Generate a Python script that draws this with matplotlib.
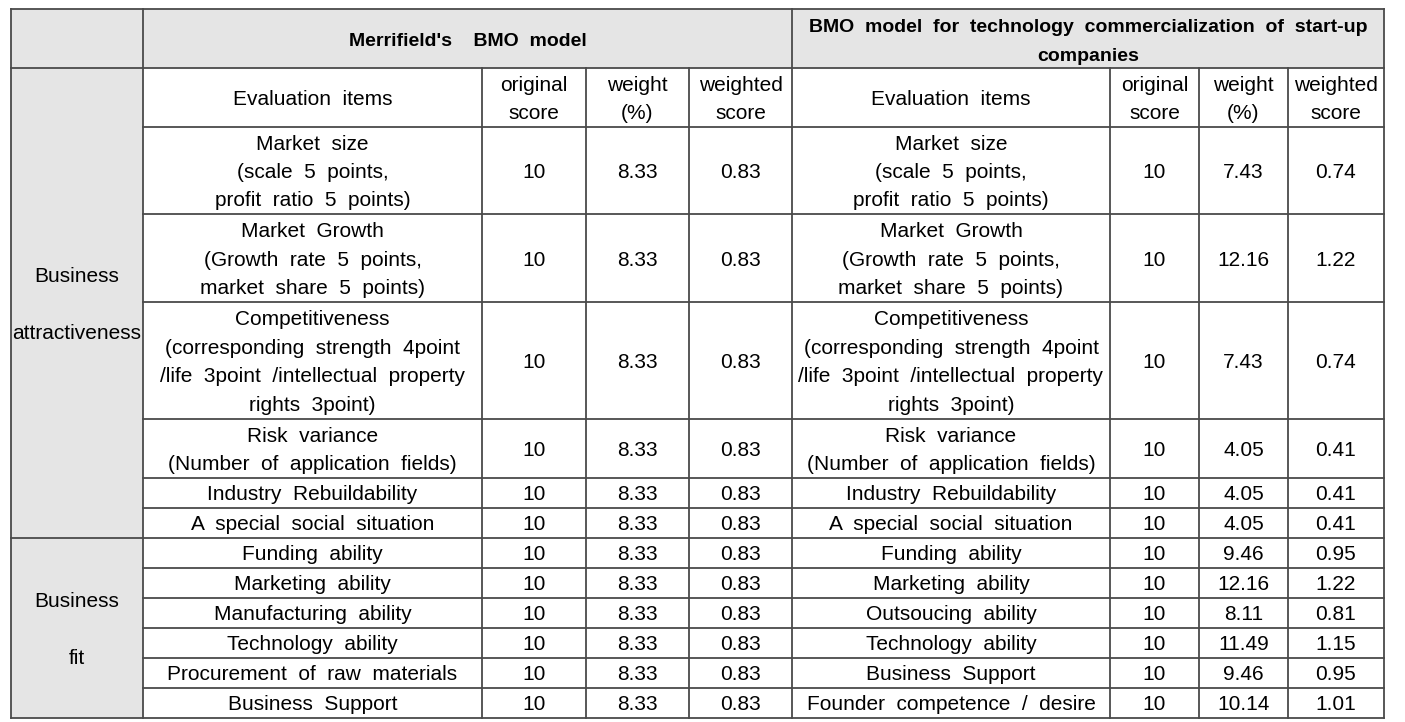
import matplotlib
matplotlib.use('Agg')
import matplotlib.pyplot as plt
from matplotlib.patches import Rectangle

plt.rcParams['font.family'] = ['Liberation Sans', 'DejaVu Sans']

# ---- table content ----
groups = ["Business\n\nattractiveness", "Business\n\nfit"]
group_sizes = [6, 6]
left_title = "Merrifield's  BMO model"
right_title = "BMO model for technology commercialization of start-up\ncompanies"
sub_headers = ["Evaluation items", "original\nscore", "weight\n(%)", "weighted\nscore"]

left_items = ["Market size\n(scale 5 points,\nprofit ratio 5 points)",
              "Market Growth\n(Growth rate 5 points,\nmarket share 5 points)",
              "Competitiveness\n(corresponding strength 4point\n/life 3point /intellectual property\nrights 3point)",
              "Risk variance\n(Number of application fields)",
              "Industry Rebuildability",
              "A special social situation",
              "Funding ability",
              "Marketing ability",
              "Manufacturing ability",
              "Technology ability",
              "Procurement of raw materials",
              "Business Support"]
left_orig = [10, 10, 10, 10, 10, 10, 10, 10, 10, 10, 10, 10]
left_weight = ["8.33", "8.33", "8.33", "8.33", "8.33", "8.33",
               "8.33", "8.33", "8.33", "8.33", "8.33", "8.33"]
left_weighted = ["0.83", "0.83", "0.83", "0.83", "0.83", "0.83",
                 "0.83", "0.83", "0.83", "0.83", "0.83", "0.83"]

right_items = ["Market size\n(scale 5 points,\nprofit ratio 5 points)",
               "Market Growth\n(Growth rate 5 points,\nmarket share 5 points)",
               "Competitiveness\n(corresponding strength 4point\n/life 3point /intellectual property\nrights 3point)",
               "Risk variance\n(Number of application fields)",
               "Industry Rebuildability",
               "A special social situation",
               "Funding ability",
               "Marketing ability",
               "Outsoucing ability",
               "Technology ability",
               "Business Support",
               "Founder competence / desire"]
right_orig = [10, 10, 10, 10, 10, 10, 10, 10, 10, 10, 10, 10]
right_weight = ["7.43", "12.16", "7.43", "4.05", "4.05", "4.05",
                "9.46", "12.16", "8.11", "11.49", "9.46", "10.14"]
right_weighted = ["0.74", "1.22", "0.74", "0.41", "0.41", "0.41",
                  "0.95", "1.22", "0.81", "1.15", "0.95", "1.01"]

# ---- layout (pixels) ----
W, H = 1405, 722
cols = [11, 143, 482, 586, 689, 792, 1110, 1199, 1288, 1384]
top, h1, h2 = 9, 68, 127
row_h = [87, 88, 117, 59, 30, 30, 30, 30, 30, 30, 30, 30]
pitch = 28.5
fs = 15
gray = '#e5e5e5'
lc = '#4a4a4a'
lw = 1.3

fig = plt.figure(figsize=(W / 100, H / 100), dpi=100)
ax = fig.add_axes([0, 0, 1, 1])
ax.set_xlim(0, W)
ax.set_ylim(H, 0)
ax.axis('off')

edges = [h2]
for h in row_h:
    edges.append(edges[-1] + h)
bottom = edges[-1]


def put(x, yc, s, bold=False, pitch=pitch, size=fs):
    lines = s.split('\n')
    n = len(lines)
    for i, ln in enumerate(lines):
        y = yc + (i - (n - 1) / 2) * pitch
        ax.text(x, y + size / 2, ln.replace(' ', '  '), ha='center', va='baseline',
                fontsize=size, fontweight='bold' if bold else 'normal', color='black')


# fills
ax.add_patch(Rectangle((cols[0], top), cols[-1] - cols[0], h1 - top, fc=gray, ec='none'))
ax.add_patch(Rectangle((cols[0], top), cols[1] - cols[0], bottom - top, fc=gray, ec='none'))

# horizontal lines
for y in [top, h1, bottom]:
    ax.plot([cols[0], cols[-1]], [y, y], color=lc, lw=lw, solid_capstyle='projecting')
g_edges = [h1]
k = 0
for gs in group_sizes:
    k += gs
    g_edges.append(edges[k])
for y in edges[:-1]:
    if y in g_edges:
        ax.plot([cols[0], cols[-1]], [y, y], color=lc, lw=lw)
    else:
        ax.plot([cols[1], cols[-1]], [y, y], color=lc, lw=lw)

# vertical lines
for i, x in enumerate(cols):
    y0 = top if i in (0, 1, 5, 9) else h1
    ax.plot([x, x], [y0, bottom], color=lc, lw=lw, solid_capstyle='projecting')

# header texts
put((cols[1] + cols[5]) / 2, (top + h1) / 2, left_title, bold=True, size=14)
put((cols[5] + cols[9]) / 2, (top + h1) / 2 + 1, right_title, bold=True, size=14, pitch=29)
for side in (1, 5):
    for j, s in enumerate(sub_headers):
        put((cols[side + j] + cols[side + j + 1]) / 2, (h1 + h2) / 2, s)

# group labels
k = 0
g_top = h1
for g, gs in zip(groups, group_sizes):
    k += gs
    g_bot = edges[k]
    put((cols[0] + cols[1]) / 2, (g_top + g_bot) / 2, g)
    g_top = g_bot

# body
for r in range(len(left_items)):
    yc = (edges[r] + edges[r + 1]) / 2
    vals_l = [left_items[r], str(left_orig[r]), left_weight[r], left_weighted[r]]
    vals_r = [right_items[r], str(right_orig[r]), right_weight[r], right_weighted[r]]
    for j in range(4):
        put((cols[1 + j] + cols[2 + j]) / 2, yc, vals_l[j])
        put((cols[5 + j] + cols[6 + j]) / 2, yc, vals_r[j])

fig.savefig('out.png', dpi=100)
